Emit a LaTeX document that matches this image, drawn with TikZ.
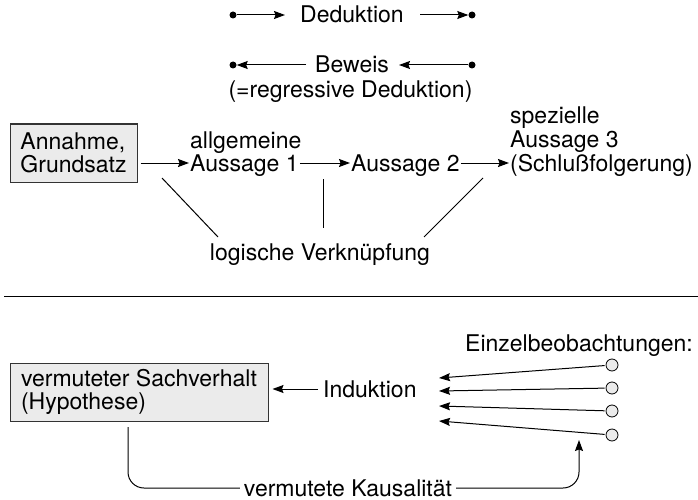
\documentclass[tikz,border=0pt]{standalone}
\usepackage{fontspec}
\setmainfont{TeX Gyre Heros}
\usetikzlibrary{arrows.meta}
\definecolor{boxgray}{HTML}{EBEBEB}
\definecolor{edgegray}{HTML}{333333}
\begin{document}
\begin{tikzpicture}[x=1pt,y=-1pt,
  every node/.style={font=\fontsize{23}{23}\selectfont},
  txt/.style={inner sep=0pt, text height=17pt, text depth=1pt},
  plain/.style={line width=1pt},
  arr/.style={line width=1pt, -{Stealth[length=11pt,width=8pt,inset=1.5pt]}},
  dotmark/.style={circle, fill=black, inner sep=0pt, minimum size=7pt},
  obs/.style={circle, draw=black, fill=boxgray, line width=0.8pt, inner sep=0pt, minimum size=12pt},
  gbox/.style={rectangle, draw=edgegray, fill=boxgray, line width=1pt, align=left, inner xsep=8pt, minimum height=58pt}]
\useasboundingbox (0,0) rectangle (698,500);

% --- Deduktion / Beweis ---
\node[txt, anchor=west] (ded) at (300,15) {Deduktion};
\node[dotmark] (dl1) at (233,15) {};
\coordinate (al1) at (285,15);
\draw[arr] (dl1) -- (al1);
\coordinate (ar1) at (420,15);
\node[dotmark] (dr1) at (472,15) {};
\draw[arr] (ar1) -- (dr1);

\node[txt, anchor=west] (bew) at (315,65) {Beweis};
\node[txt] (reg) at (350.5,90) {(=regressive Deduktion)};
\node[dotmark] (dl2) at (233,65) {};
\coordinate (al2) at (306,65);
\draw[arr] (al2) -- (dl2);
\node[dotmark] (dr2) at (472,65) {};
\coordinate (ar2) at (399,65);
\draw[arr] (dr2) -- (ar2);

% --- chain of statements ---
\node[gbox, minimum width=127pt] (ann) at (73.5,153) {Annahme,\\Grundsatz};
\node[txt, anchor=west] (allg) at (190,140) {allgemeine};
\node[txt, anchor=west, inner xsep=1pt] (s1) at (189,163) {Aussage 1};
\node[txt, anchor=west, inner xsep=1pt] (s2) at (350,163) {Aussage 2};
\node[txt, anchor=west] (spez) at (510,116) {spezielle};
\node[txt, anchor=west] (s3a) at (510,139.5) {Aussage 3};
\node[txt, anchor=west, inner xsep=1pt] (s3) at (509,163) {(Schlußfolgerung)};
\draw[arr, shorten <=3pt] (ann.east |- s1.west) -- (s1.west);
\draw[arr] (s1) -- (s2);
\draw[arr] (s2) -- (s3);

\node[txt] (lv) at (320,252) {logische Verknüpfung};
\coordinate (l1a) at (162,178); \coordinate (l1b) at (218,237);
\coordinate (l2a) at (323,179); \coordinate (l2b) at (323,228);
\coordinate (l3a) at (483,178); \coordinate (l3b) at (424,237);
\draw[plain] (l1a) -- (l1b);
\draw[plain] (l2a) -- (l2b);
\draw[plain] (l3a) -- (l3b);

% --- separator ---
\coordinate (sepL) at (4,296);
\coordinate (sepR) at (698,296);
\draw[plain] (sepL) -- (sepR);

% --- induction ---
\node[txt, anchor=east] (einz) at (693,343) {Einzelbeobachtungen:};
\foreach \i/\y in {1/365,2/388,3/411,4/435}
  \node[obs] (o\i) at (612,\y) {};
\coordinate (t1) at (439,378);
\coordinate (t2) at (439,391);
\coordinate (t3) at (439,406);
\coordinate (t4) at (439,421);
\foreach \i in {1,...,4}
  \draw[arr, shorten <=1pt] (o\i) -- (t\i);

\node[gbox, minimum width=258pt] (hyp) at (139,392) {vermuteter Sachverhalt\\(Hypothese)};
\node[txt, anchor=west] (ind) at (323,389) {Induktion};
\draw[arr, shorten <=5pt, shorten >=4pt] (ind.west) -- (hyp.east |- ind.west);

\coordinate (k0) at (128,427);
\coordinate (k1) at (579,440);
\node[txt, inner xsep=4pt] (kaus) at (348,488) {vermutete Kausalität};
\draw[plain, rounded corners=16pt] (k0) |- (kaus.west);
\draw[arr, rounded corners=16pt] (kaus.east) -| (k1);
\end{tikzpicture}
\end{document}
